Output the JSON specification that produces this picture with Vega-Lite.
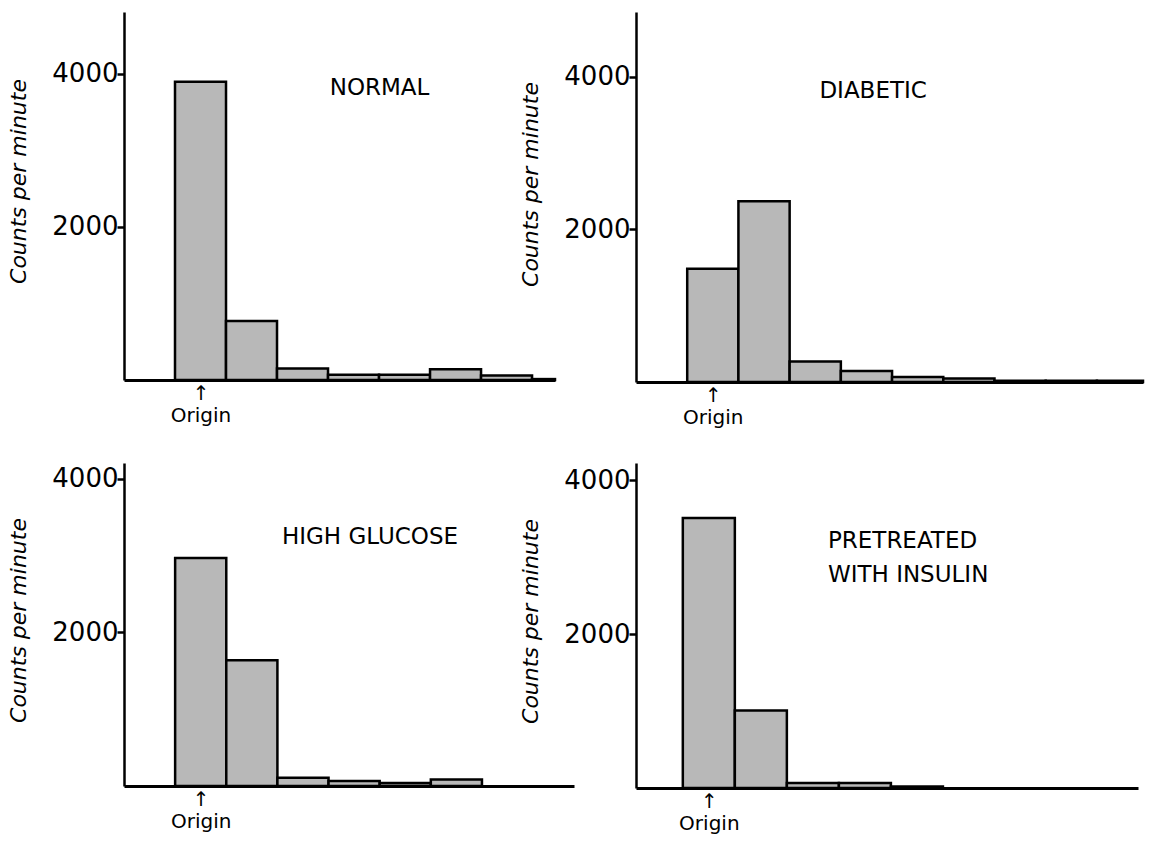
{
  "$schema": "https://vega.github.io/schema/vega-lite/v6.json",
  "background": "white",
  "padding": {"left": 7, "top": 12, "right": 5, "bottom": 5},
  "datasets": {
    "normal": [
      {"start": 1, "end": 2, "cpm": 3895},
      {"start": 2, "end": 3, "cpm": 770},
      {"start": 3, "end": 4, "cpm": 150},
      {"start": 4, "end": 5, "cpm": 70},
      {"start": 5, "end": 6, "cpm": 70},
      {"start": 6, "end": 7, "cpm": 140},
      {"start": 7, "end": 8, "cpm": 60},
      {"start": 8, "end": 8.45, "cpm": 12}
    ],
    "diabetic": [
      {"start": 1, "end": 2, "cpm": 1486},
      {"start": 2, "end": 3, "cpm": 2369},
      {"start": 3, "end": 4, "cpm": 270},
      {"start": 4, "end": 5, "cpm": 144},
      {"start": 5, "end": 6, "cpm": 66},
      {"start": 6, "end": 7, "cpm": 45},
      {"start": 7, "end": 8, "cpm": 15},
      {"start": 8, "end": 9, "cpm": 15},
      {"start": 9, "end": 9.9, "cpm": 15}
    ],
    "glucose": [
      {"start": 1, "end": 2, "cpm": 2969},
      {"start": 2, "end": 3, "cpm": 1636},
      {"start": 3, "end": 4, "cpm": 108},
      {"start": 4, "end": 5, "cpm": 65},
      {"start": 5, "end": 6, "cpm": 38},
      {"start": 6, "end": 7, "cpm": 85}
    ],
    "insulin": [
      {"start": 1, "end": 2, "cpm": 3511},
      {"start": 2, "end": 3, "cpm": 1009},
      {"start": 3, "end": 4, "cpm": 65},
      {"start": 4, "end": 5, "cpm": 65},
      {"start": 5, "end": 6, "cpm": 18}
    ],
    "labels": [
      {"panel": "normal", "label": "NORMAL"},
      {"panel": "diabetic", "label": "DIABETIC"},
      {"panel": "glucose", "label": "HIGH GLUCOSE"},
      {"panel": "insulin", "label": "PRETREATED"},
      {"panel": "insulin2", "label": "WITH INSULIN"}
    ]
  },
  "columns": 2,
  "bounds": "flush",
  "align": "each",
  "spacing": {"row": 81, "column": 62},
  "concat": [
    {
      "width": 431, "height": 368,
      "layer": [
        {
          "data": {"name": "normal"},
          "mark": {"type": "bar", "fill": "#b8b8b8", "stroke": "black", "strokeWidth": 2.5},
          "encoding": {
            "x": {"field": "start", "type": "quantitative", "scale": {"domain": [0, 8.45], "nice": false, "zero": false},
                  "axis": {"values": [1.5], "title": null, "ticks": false, "labelExpr": "['↑', 'Origin']", "labelFontSize": 20, "labelLineHeight": 22, "labelPadding": 3, "labelBaseline": "top", "domainWidth": 3, "labelFlush": false}},
            "x2": {"field": "end"},
            "y": {"field": "cpm", "type": "quantitative", "scale": {"domain": [0, 4805], "nice": false},
                  "axis": {"values": [2000, 4000], "title": "Counts per minute", "titleY": 169}},
            "y2": {"datum": 0}
          }
        },
        {
          "data": {"name": "labels"},
          "transform": [{"filter": "datum.panel === 'normal'"}],
          "mark": {"type": "text", "fontSize": 23, "align": "center", "baseline": "middle"},
          "encoding": {
            "x": {"datum": 5.01, "type": "quantitative"},
            "y": {"datum": 3812, "type": "quantitative"},
            "text": {"field": "label"}
          }
        }
      ]
    },
    {
      "width": 507, "height": 370,
      "layer": [
        {
          "data": {"name": "diabetic"},
          "mark": {"type": "bar", "fill": "#b8b8b8", "stroke": "black", "strokeWidth": 2.5},
          "encoding": {
            "x": {"field": "start", "type": "quantitative", "scale": {"domain": [0, 9.9], "nice": false, "zero": false},
                  "axis": {"values": [1.5], "title": null, "ticks": false, "labelExpr": "['↑', 'Origin']", "labelFontSize": 20, "labelLineHeight": 22, "labelPadding": 3, "labelBaseline": "top", "domainWidth": 3, "labelFlush": false}},
            "x2": {"field": "end"},
            "y": {"field": "cpm", "type": "quantitative", "scale": {"domain": [0, 4852], "nice": false},
                  "axis": {"values": [2000, 4000], "title": "Counts per minute", "titleY": 172}},
            "y2": {"datum": 0}
          }
        },
        {
          "data": {"name": "labels"},
          "transform": [{"filter": "datum.panel === 'diabetic'"}],
          "mark": {"type": "text", "fontSize": 23, "align": "center", "baseline": "middle"},
          "encoding": {
            "x": {"datum": 4.63, "type": "quantitative"},
            "y": {"datum": 3816, "type": "quantitative"},
            "text": {"field": "label"}
          }
        }
      ]
    },
    {
      "width": 450, "height": 323,
      "layer": [
        {
          "data": {"name": "glucose"},
          "mark": {"type": "bar", "fill": "#b8b8b8", "stroke": "black", "strokeWidth": 2.5},
          "encoding": {
            "x": {"field": "start", "type": "quantitative", "scale": {"domain": [0, 8.8], "nice": false, "zero": false},
                  "axis": {"values": [1.5], "title": null, "ticks": false, "labelExpr": "['↑', 'Origin']", "labelFontSize": 20, "labelLineHeight": 22, "labelPadding": 3, "labelBaseline": "top", "domainWidth": 3, "labelFlush": false}},
            "x2": {"field": "end"},
            "y": {"field": "cpm", "type": "quantitative", "scale": {"domain": [0, 4206], "nice": false},
                  "axis": {"values": [2000, 4000], "title": "Counts per minute", "titleY": 157}},
            "y2": {"datum": 0}
          }
        },
        {
          "data": {"name": "labels"},
          "transform": [{"filter": "datum.panel === 'glucose'"}],
          "mark": {"type": "text", "fontSize": 23, "align": "center", "baseline": "middle"},
          "encoding": {
            "x": {"datum": 4.81, "type": "quantitative"},
            "y": {"datum": 3236, "type": "quantitative"},
            "text": {"field": "label"}
          }
        }
      ]
    },
    {
      "width": 502, "height": 325,
      "layer": [
        {
          "data": {"name": "insulin"},
          "mark": {"type": "bar", "fill": "#b8b8b8", "stroke": "black", "strokeWidth": 2.5},
          "encoding": {
            "x": {"field": "start", "type": "quantitative", "scale": {"domain": [0.1, 9.75], "nice": false, "zero": false},
                  "axis": {"values": [1.5], "title": null, "ticks": false, "labelExpr": "['↑', 'Origin']", "labelFontSize": 20, "labelLineHeight": 22, "labelPadding": 3, "labelBaseline": "top", "domainWidth": 3, "labelFlush": false}},
            "x2": {"field": "end"},
            "y": {"field": "cpm", "type": "quantitative", "scale": {"domain": [0, 4226], "nice": false},
                  "axis": {"values": [2000, 4000], "title": "Counts per minute", "titleY": 158}},
            "y2": {"datum": 0}
          }
        },
        {
          "data": {"name": "labels"},
          "transform": [{"filter": "datum.panel === 'insulin'"}],
          "mark": {"type": "text", "fontSize": 23, "align": "left", "baseline": "middle"},
          "encoding": {
            "x": {"datum": 3.79, "type": "quantitative"},
            "y": {"datum": 3215, "type": "quantitative"},
            "text": {"field": "label"}
          }
        },
        {
          "data": {"name": "labels"},
          "transform": [{"filter": "datum.panel === 'insulin2'"}],
          "mark": {"type": "text", "fontSize": 23, "align": "left", "baseline": "middle"},
          "encoding": {
            "x": {"datum": 3.79, "type": "quantitative"},
            "y": {"datum": 2775, "type": "quantitative"},
            "text": {"field": "label"}
          }
        }
      ]
    }
  ],
  "config": {
    "view": {"stroke": null},
    "font": "DejaVu Sans",
    "text": {"color": "black", "font": "DejaVu Sans"},
    "axis": {
      "grid": false,
      "domainColor": "black",
      "domainWidth": 2.5,
      "tickColor": "black",
      "labelColor": "black",
      "titleColor": "black",
      "labelFont": "DejaVu Sans",
      "titleFont": "DejaVu Sans"
    },
    "axisY": {
      "ticks": true,
      "tickSize": 7,
      "tickWidth": 2.5,
      "labelFontSize": 26,
      "labelPadding": -1,
      "titleFontSize": 22,
      "titleFontStyle": "italic",
      "titleFontWeight": "normal",
      "titlePadding": 21,
      "format": "d"
    }
  }
}
